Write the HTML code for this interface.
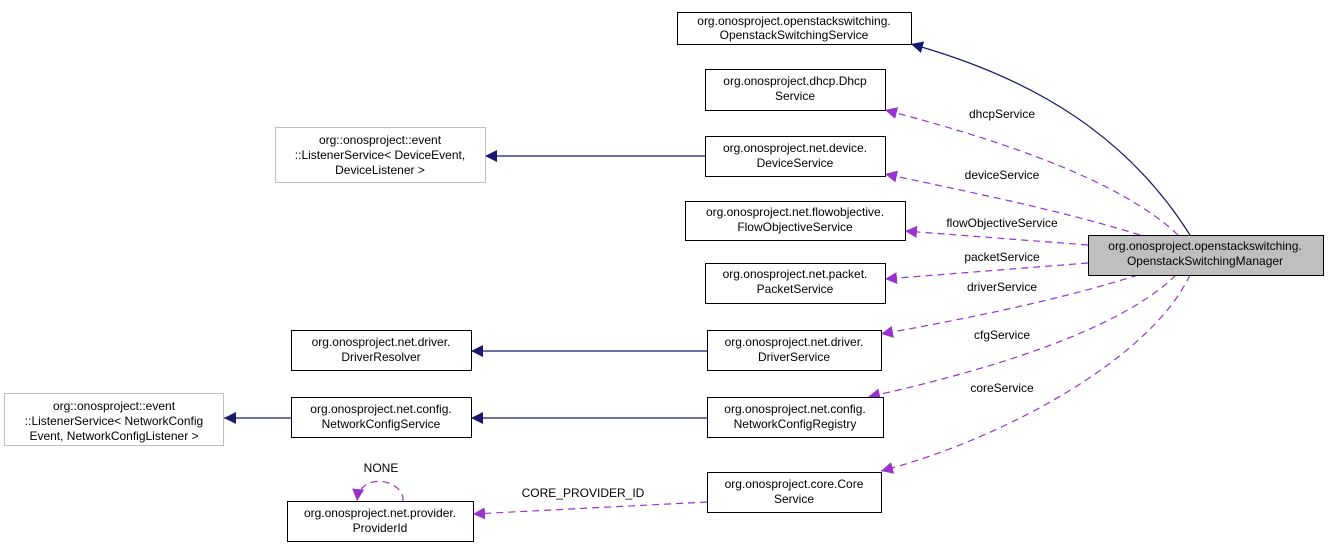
<!DOCTYPE html>
<html><head><meta charset="utf-8"><style>
body{margin:0;background:#fff}
svg{display:block}
text{font-family:"Liberation Sans",sans-serif;font-size:12px;fill:#000}
</style></head><body>
<svg width="1328" height="547" viewBox="0 0 1328 547" xmlns="http://www.w3.org/2000/svg">
<defs>
<marker id="nv" viewBox="0 0 10 10" refX="10" refY="5" markerWidth="12" markerHeight="12" markerUnits="userSpaceOnUse" orient="auto"><path d="M0,0 L10,5 L0,10 z" fill="#191970"/></marker>
<marker id="pu" viewBox="0 0 10 10" refX="10" refY="5" markerWidth="12" markerHeight="12" markerUnits="userSpaceOnUse" orient="auto"><path d="M0,0 L10,5 L0,10 z" fill="#9a32cd"/></marker>
</defs>
<g fill="none" stroke="#191970" stroke-width="1.2">
<path d="M1190,235 C1130,140 1040,80 911,44" marker-end="url(#nv)"/>
<path d="M705,156 L485,156" marker-end="url(#nv)"/>
<path d="M707,351 L471,351" marker-end="url(#nv)"/>
<path d="M707,418 L471,418" marker-end="url(#nv)"/>
<path d="M291,418 L224,418" marker-end="url(#nv)"/>
</g>
<g fill="none" stroke="#9a32cd" stroke-width="1.2" stroke-dasharray="7,5">
<path d="M1178,235 C1120,180 1000,140 885,110" marker-end="url(#pu)"/>
<path d="M1140,235 C1060,210 960,190 885,174" marker-end="url(#pu)"/>
<path d="M1088,245 L905,231" marker-end="url(#pu)"/>
<path d="M1088,263 L885,279" marker-end="url(#pu)"/>
<path d="M1138,275 C1060,300 960,320 881,334" marker-end="url(#pu)"/>
<path d="M1176,275 C1120,330 990,370 868,397" marker-end="url(#pu)"/>
<path d="M1190,275 C1150,360 1000,440 881,471" marker-end="url(#pu)"/>
<path d="M707,502 L473,514" marker-end="url(#pu)"/>
<path d="M403,501 C405,480 360,470 357,501" marker-end="url(#pu)"/>
</g>
<g stroke="#000" stroke-width="1" fill="#fff">
<rect x="677.5" y="12.5" width="234" height="32"/>
<rect x="705.5" y="69.5" width="180" height="41"/>
<rect x="275.5" y="127.5" width="210" height="55" stroke="#bfbfbf"/>
<rect x="705.5" y="136.5" width="180" height="40"/>
<rect x="685.5" y="201.5" width="220" height="39"/>
<rect x="1088.5" y="235.5" width="235" height="40" fill="#bfbfbf"/>
<rect x="705.5" y="263.5" width="180" height="40"/>
<rect x="291.5" y="330.5" width="180" height="40"/>
<rect x="707.5" y="330.5" width="174" height="40"/>
<rect x="4.5" y="393.5" width="219" height="52" stroke="#bfbfbf"/>
<rect x="291.5" y="397.5" width="180" height="40"/>
<rect x="707.5" y="397.5" width="176" height="40"/>
<rect x="707.5" y="472.5" width="174" height="40"/>
<rect x="287.5" y="501.5" width="186" height="40"/>
</g>
<g text-anchor="middle">
<text x="794" y="25">org.onosproject.openstackswitching.</text><text x="794" y="39">OpenstackSwitchingService</text>
<text x="795" y="85">org.onosproject.dhcp.Dhcp</text><text x="795" y="100">Service</text>
<text x="380" y="144">org::onosproject::event</text><text x="380" y="159">::ListenerService&lt; DeviceEvent,</text><text x="380" y="174">DeviceListener &gt;</text>
<text x="795" y="152">org.onosproject.net.device.</text><text x="795" y="167">DeviceService</text>
<text x="795" y="216">org.onosproject.net.flowobjective.</text><text x="795" y="231">FlowObjectiveService</text>
<text x="1205" y="250">org.onosproject.openstackswitching.</text><text x="1205" y="265">OpenstackSwitchingManager</text>
<text x="795" y="278">org.onosproject.net.packet.</text><text x="795" y="293">PacketService</text>
<text x="381" y="346">org.onosproject.net.driver.</text><text x="381" y="361">DriverResolver</text>
<text x="794" y="346">org.onosproject.net.driver.</text><text x="794" y="361">DriverService</text>
<text x="114" y="410">org::onosproject::event</text><text x="114" y="425">::ListenerService&lt; NetworkConfig</text><text x="114" y="440">Event, NetworkConfigListener &gt;</text>
<text x="381" y="413">org.onosproject.net.config.</text><text x="381" y="428">NetworkConfigService</text>
<text x="795" y="413">org.onosproject.net.config.</text><text x="795" y="428">NetworkConfigRegistry</text>
<text x="794" y="488">org.onosproject.core.Core</text><text x="794" y="503">Service</text>
<text x="380" y="517">org.onosproject.net.provider.</text><text x="380" y="532">ProviderId</text>
<text x="1002" y="118">dhcpService</text>
<text x="1002" y="179">deviceService</text>
<text x="1002" y="227">flowObjectiveService</text>
<text x="1002" y="261">packetService</text>
<text x="1002" y="291">driverService</text>
<text x="1002" y="339">cfgService</text>
<text x="1002" y="392">coreService</text>
<text x="583" y="497">CORE_PROVIDER_ID</text>
<text x="381" y="472">NONE</text>
</g>
</svg>
</body></html>
